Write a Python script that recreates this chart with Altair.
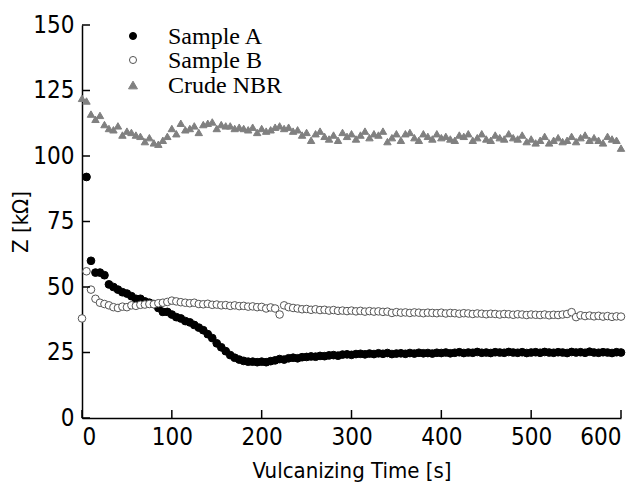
import altair as alt
import pandas as pd

# Time axes (s)
time_a = list(range(5, 601, 5))
time_b = list(range(0, 601, 5))
time_n = list(range(0, 601, 5))

# Sample A, Z [kOhm]
sample_a = [
    92, 60, 55.5, 55.5, 54.5, 51, 50, 49, 48, 47.5,
    46.5, 45.5, 45.5, 44.5, 44, 43.5, 42, 40.5, 40.5, 39.5,
    38.5, 38, 37, 36.5, 35.5, 34.5, 33.5, 32, 30.5, 28.5,
    27, 25.5, 24, 23, 22.3, 21.8, 21.5, 21.5, 21.3, 21.5,
    21.3, 21.7, 22, 22.5, 22.3, 22.8, 23, 22.8, 23.2, 23.3,
    23.5, 23.4, 23.7, 23.6, 23.9, 24, 23.8, 24.2, 24.3, 24.1,
    24.4, 24.5, 24.3, 24.6, 24.4, 24.7, 24.5, 24.8, 24.4, 24.6,
    24.7, 24.5, 24.8, 24.6, 24.9, 24.7, 24.8, 24.6, 24.9, 24.8,
    25.0, 24.7, 24.9, 25.1, 24.8, 25.0, 24.9, 25.2, 24.9, 25.0,
    24.8, 25.1, 25.0, 24.9, 25.2, 25.0, 24.9, 25.1, 24.8, 25.0,
    25.1, 24.9, 25.2, 25.0, 24.9, 25.1, 25.0, 24.8, 25.2, 25.0,
    25.1, 24.9, 25.3, 25.0, 24.9, 25.1, 25.0, 24.8, 25.1, 25.0,
]

# Sample B, Z [kOhm]
sample_b = [
    38, 56, 49, 45.5, 44, 43.5, 43, 42.3, 42, 42.5,
    42.3, 43, 42.8, 43.2, 43.3, 43.5, 43.4, 43.8, 44, 44.3,
    44.8, 44.5, 44.2, 44, 43.8, 44, 43.5, 43.4, 43.6, 43.2,
    43.3, 43, 43.1, 42.8, 43, 42.7, 42.8, 42.5, 42.6, 42.3,
    42.4, 41.8, 42.2, 41.8, 39.5, 43, 42.3, 42, 41.8, 41.5,
    41.6, 41.3, 41.5, 41.2, 41.3, 41, 41.2, 40.9, 41, 40.8,
    41, 40.7, 40.9, 40.6, 40.8, 40.6, 40.7, 40.5, 40.6, 40.1,
    40.4, 40.2, 40.3, 40.1, 40.3, 40.2, 40.0, 40.2, 40.1, 40.0,
    40.2, 39.9, 40.1, 40.0, 39.8, 40.0, 39.9, 39.7, 39.9, 39.8,
    39.6, 39.8, 39.7, 39.5, 39.7, 39.6, 39.4, 39.6, 39.5, 39.3,
    39.5, 39.4, 39.3, 39.5, 39.2, 39.4, 39.3, 39.5, 39.7, 40.4,
    38.5, 39.2, 38.9, 39.1, 38.8, 39.0, 38.7, 38.9, 38.6, 38.8,
    38.7,
]

# Crude NBR, Z [kOhm]
crude_nbr = [
    122, 121, 116, 114, 115.5, 112, 110.5, 110, 111.5, 108,
    109.5, 109, 108, 107.5, 105.5, 107, 105, 104.5, 106, 107.5,
    110.5, 108.5, 112.5, 110, 110.5, 111.5, 109, 112, 112.5, 113,
    110.5, 112, 111.5, 111.5, 110.5, 111, 110.5, 110, 111, 109,
    110.5, 109.5, 110, 111, 111.5, 110.5, 111, 109.5, 110, 108,
    109, 106, 108.5, 109.5, 107.5, 106.5, 108, 106, 109, 107.5,
    108.5, 106.5, 108, 109.5, 107, 108.5, 108, 109.5, 105.5, 107,
    108.5, 106, 108.5, 109, 107, 106, 108.5, 107.5, 106.5, 108.5,
    107, 107.5, 106.5, 106, 108, 107.5, 108.5, 106, 107, 108.5,
    106.5, 106, 108, 107, 106.5, 108.5, 107, 106.5, 108, 105.5,
    106.5, 105, 106, 107.5, 105, 106, 107, 105.5, 106, 107.5,
    105.5, 107, 108, 106, 107, 106, 105, 107.5, 106.5, 106,
    103,
]

series_names = ["Sample A", "Sample B", "Crude NBR"]
series_shapes = ["circle", "circle", "triangle-up"]
series_fills = ["#000000", "#ffffff", "#808080"]
series_strokes = ["#000000", "#555555", "#808080"]
series_sizes = [60, 55, 100]
x_ticks = [0, 100, 200, 300, 400, 500, 600]
y_ticks = [0, 25, 50, 75, 100, 125, 150]

df = pd.concat([
    pd.DataFrame({"t": time_a, "z": sample_a, "series": "Sample A"}),
    pd.DataFrame({"t": time_b, "z": sample_b, "series": "Sample B"}),
    pd.DataFrame({"t": time_n, "z": crude_nbr, "series": "Crude NBR"}),
])

W, H = 539, 393
FONT = "DejaVu Sans Condensed, Liberation Sans Narrow, sans-serif"

xscale = alt.Scale(domain=[0, 600], nice=False, zero=False)
yscale = alt.Scale(domain=[0, 150], nice=False)

points = alt.Chart(df).mark_point(filled=False, opacity=1, strokeWidth=1).encode(
    x=alt.X("t:Q", scale=xscale,
            axis=alt.Axis(values=x_ticks, title="Vulcanizing Time [s]", titlePadding=11)),
    y=alt.Y("z:Q", scale=yscale,
            axis=alt.Axis(values=y_ticks, title="Z [kΩ]", titleX=-50, titleY=H / 2)),
    shape=alt.Shape("series:N", scale=alt.Scale(domain=series_names, range=series_shapes), legend=None),
    fill=alt.Fill("series:N", scale=alt.Scale(domain=series_names, range=series_fills), legend=None),
    stroke=alt.Stroke("series:N", scale=alt.Scale(domain=series_names, range=series_strokes), legend=None),
    size=alt.Size("series:N", scale=alt.Scale(domain=series_names, range=series_sizes), legend=None),
)

xt = pd.DataFrame({"v": x_ticks})
yt = pd.DataFrame({"v": y_ticks})

xtick_rules = alt.Chart(xt).mark_rule(color="black", strokeWidth=1.5).encode(
    x=alt.X("v:Q", scale=xscale),
    y=alt.value(H), y2=alt.value(H - 8),
)
ytick_rules = alt.Chart(yt).mark_rule(color="black", strokeWidth=1.5).encode(
    y=alt.Y("v:Q", scale=yscale),
    x=alt.value(0), x2=alt.value(8),
)

# Legend (drawn as marks at fixed pixel positions inside the plot area)
legend_layers = []
row_y = [11, 35, 60]
legend_sizes = [50, 50, 80]
for i, name in enumerate(series_names):
    ld = pd.DataFrame({"series": [name]})
    legend_layers.append(
        alt.Chart(ld).mark_point(
            shape=series_shapes[i], filled=True, fill=series_fills[i],
            stroke=series_strokes[i], strokeWidth=1, size=legend_sizes[i], opacity=1,
        ).encode(x=alt.value(51), y=alt.value(row_y[i]))
    )
    legend_layers.append(
        alt.Chart(ld).mark_text(
            align="left", baseline="middle", font="Liberation Serif", fontSize=24, color="black",
        ).encode(x=alt.value(86), y=alt.value(row_y[i] + 1), text="series:N")
    )

chart = alt.layer(points, xtick_rules, ytick_rules, *legend_layers).properties(
    width=W, height=H,
    autosize=alt.AutoSizeParams(type="none"),
    padding={"left": 74, "top": 17, "right": 13, "bottom": 67},
).configure_view(stroke=None).configure_axis(
    grid=False, ticks=False,
    domainColor="black", domainWidth=1.5,
    labelFont=FONT, labelFontSize=24, labelColor="black", labelPadding=8,
    titleFont=FONT, titleFontSize=22, titleFontWeight="normal", titleColor="black",
).configure_axisX(labelPadding=7)

chart.save("out.html", embed_options={"renderer": "svg", "actions": False})
